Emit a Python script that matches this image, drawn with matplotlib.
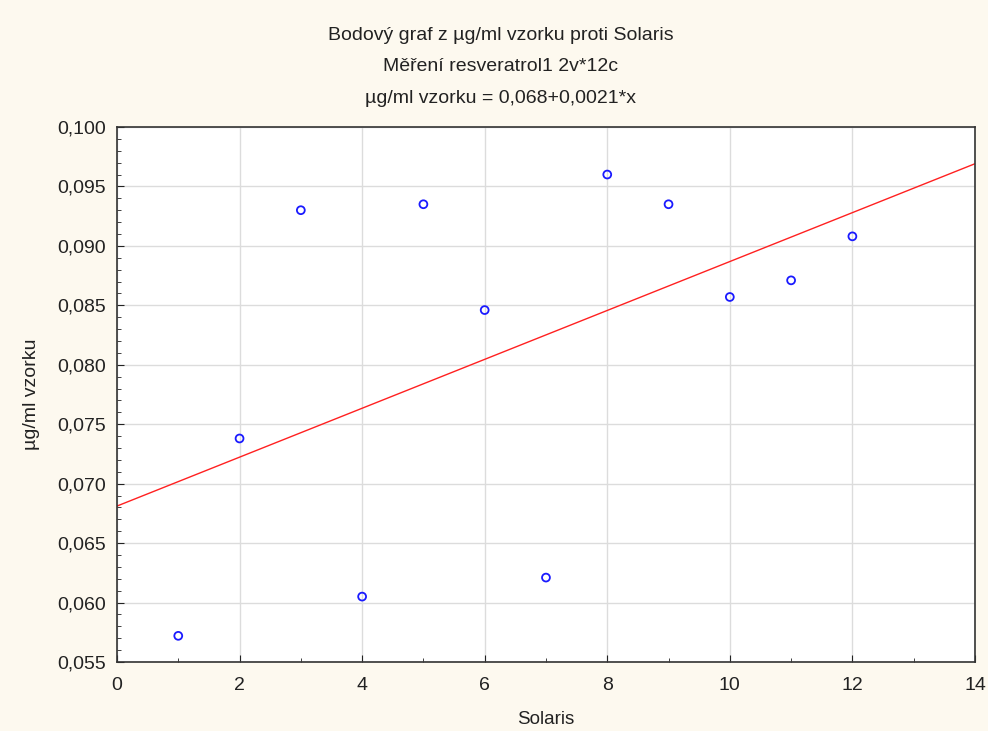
import numpy as np
import matplotlib.pyplot as plt
from matplotlib.ticker import MultipleLocator, FuncFormatter

plt.rcParams['font.family'] = ['Liberation Sans', 'DejaVu Sans']

# data
solaris = [1, 2, 3, 4, 5, 6, 7, 8, 9, 10, 11, 12]
vzorek = [0.0572, 0.0738, 0.0930, 0.0605, 0.0935, 0.0846,
          0.0621, 0.0960, 0.0935, 0.0857, 0.0871, 0.0908]

title_lines = ['Bodový graf z µg/ml vzorku proti Solaris',
               'Měření resveratrol1 2v*12c',
               'µg/ml vzorku = 0,068+0,0021*x']

fig = plt.figure(figsize=(9.88, 7.31), dpi=100, facecolor='#fdf9ef')
ax = fig.add_axes([0.1184, 0.0944, 0.8684, 0.7319])
ax.set_facecolor('white')

# regression line
b, a = np.polyfit(solaris, vzorek, 1)
xs = np.array([0, 14])
ax.plot(xs, a + b * xs, color='#ff2020', lw=1.0, zorder=2)

ax.scatter(solaris, vzorek, s=32, facecolors='none', edgecolors='#1a1aff',
           linewidths=1.3, zorder=3)

ax.set_xlim(0, 14)
ax.set_ylim(0.055, 0.100)
ax.xaxis.set_major_locator(MultipleLocator(2))
ax.xaxis.set_minor_locator(MultipleLocator(1))
ax.yaxis.set_major_locator(MultipleLocator(0.005))
ax.yaxis.set_minor_locator(MultipleLocator(0.001))
ax.yaxis.set_major_formatter(FuncFormatter(lambda v, p: ('%.3f' % v).replace('.', ',')))
ax.xaxis.set_major_formatter(FuncFormatter(lambda v, p: '%d' % v))

ax.grid(True, which='major', color='#dcdcdc', lw=1.0, zorder=0)
ax.set_axisbelow(True)
ax.tick_params(which='both', direction='in', top=False, right=False,
               labelsize=14, colors='#222222')
ax.tick_params(axis='y', pad=8)
ax.tick_params(axis='x', pad=11)
ax.tick_params(which='major', length=5)
ax.tick_params(which='minor', length=3)
for sp in ax.spines.values():
    sp.set_color('#333333')
    sp.set_linewidth(1.2)

ax.set_xlabel('Solaris', fontsize=13.5, labelpad=12, color='#222222')
ax.set_ylabel('µg/ml vzorku', fontsize=14, labelpad=12, color='#222222')

for i, t in enumerate(title_lines):
    fig.text(0.507, 0.952 - i * 0.0435, t, ha='center', va='center',
             fontsize=14, color='#222222')

fig.savefig('out.png', dpi=100, facecolor=fig.get_facecolor())
